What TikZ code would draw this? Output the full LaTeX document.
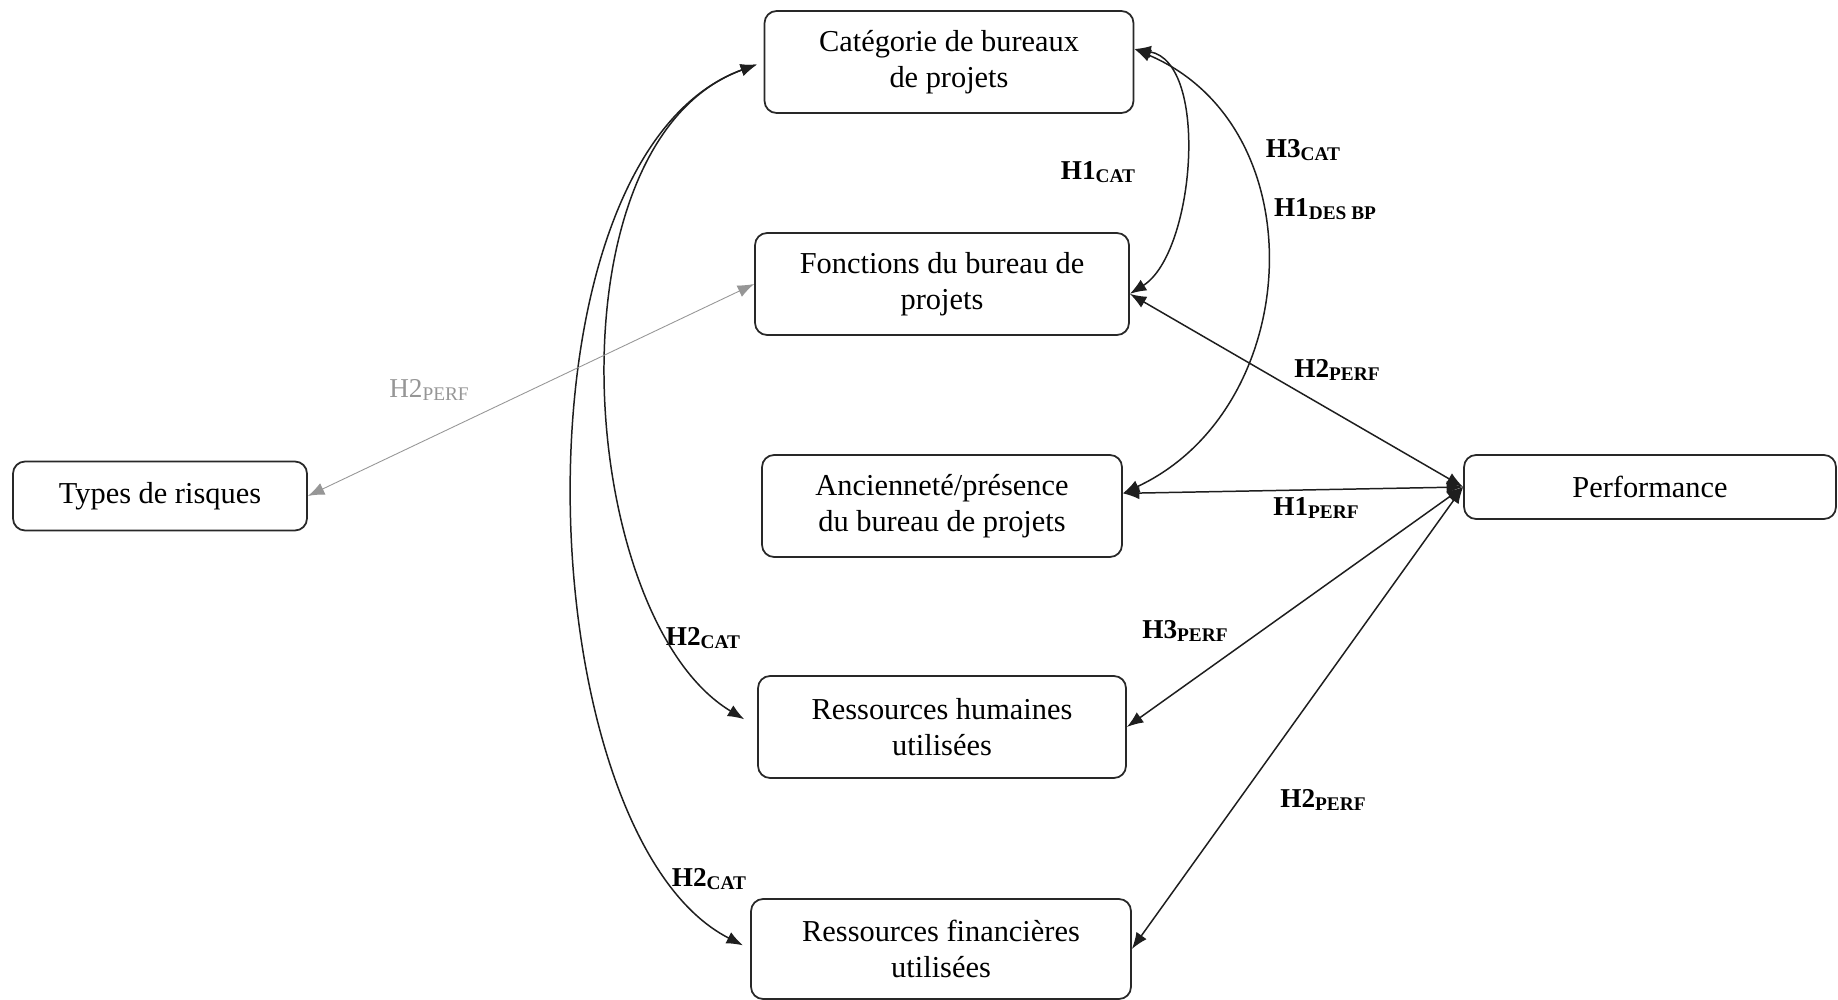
\documentclass[tikz,border=0pt]{standalone}
\usepackage{fontspec}
\setmainfont{Liberation Serif}
\usepackage{tikz}
\usetikzlibrary{arrows.meta}
\definecolor{boxline}{RGB}{40,40,40}
\definecolor{linkline}{RGB}{30,30,30}
\definecolor{greyline}{RGB}{150,150,150}
\newcommand{\hypsub}[2]{#1\raisebox{-0.3ex}{\fontsize{11}{11}\selectfont #2}}
\newcommand{\hyp}[2]{{\bfseries\hypsub{#1}{#2}}}

\begin{document}
\begin{tikzpicture}[
      x=0.02cm,y=0.02cm,
      box/.style={draw=boxline,line width=1pt,rounded corners=0.24cm,align=center,
                  inner sep=0pt,minimum height=2.04cm,
                  font=\fontsize{17.3}{20.5}\selectfont},
      hyplabel/.style={font=\fontsize{15.5}{17}\selectfont,inner sep=0pt},
      every edge/.style={draw,linkline,line width=0.85pt,
                         {Latex[length=3.3mm,width=2.5mm]}-{Latex[length=3.3mm,width=2.5mm]}}]
    \useasboundingbox (0,0) rectangle (1838,-1000);

    \node[box,minimum width=7.38cm] (cat) at (949,-62)
      {Catégorie de bureaux\\de projets};
    \node[box,minimum width=7.48cm] (fonc) at (942,-284)
      {Fonctions du bureau de\\projets};
    \node[box,minimum width=7.2cm] (anc) at (942,-506)
      {Ancienneté/présence\\du bureau de projets};
    \node[box,minimum width=7.36cm] (rh) at (942,-727)
      {Ressources humaines\\utilisées};
    \node[box,minimum width=7.6cm,minimum height=2cm] (rf) at (941,-949)
      {Ressources financières\\utilisées};
    \node[box,minimum width=5.88cm,minimum height=1.38cm] (types) at (160,-496)
      {Types de risques};
    \node[box,minimum width=7.44cm,minimum height=1.28cm] (perf) at (1650,-487)
      {Performance};

    \node[hyplabel] (h1cat) at (1098,-172) {\hyp{H1}{CAT}};
    \node[hyplabel] (h3cat) at (1303,-150) {\hyp{H3}{CAT}};
    \node[hyplabel] (h1des) at (1325,-209) {\hyp{H1}{DES BP}};
    \node[hyplabel] (h2perfa) at (1337,-370) {\hyp{H2}{PERF}};
    \node[hyplabel] (h1perf) at (1316,-508) {\hyp{H1}{PERF}};
    \node[hyplabel] (h3perf) at (1185,-631) {\hyp{H3}{PERF}};
    \node[hyplabel] (h2perfb) at (1323,-800) {\hyp{H2}{PERF}};
    \node[hyplabel] (h2cata) at (703,-638) {\hyp{H2}{CAT}};
    \node[hyplabel] (h2catb) at (709,-879) {\hyp{H2}{CAT}};
    \node[hyplabel,text=greyline] (h2risk) at (429,-390) {\hypsub{H2}{PERF}};

    \draw (cat.west) edge[out=200,in=149,out looseness=0.9,in looseness=0.81,
                          shorten <=0.14cm,shorten >=0.3cm] (rh.west);
    \draw (cat.west) edge[out=200,in=153,out looseness=0.8,in looseness=0.72,
                          shorten <=0.14cm,shorten >=0.16cm] (rf.west);
    \draw (cat.4) edge[out=-10,in=32,looseness=0.8] (fonc.-3);
    \draw (cat.4) edge[out=-23,in=25,looseness=1.15] (anc.4);
    \draw (perf.west) edge (fonc.-3);
    \draw (perf.west) edge (anc.4);
    \draw (perf.west) edge (rh.east);
    \draw (perf.west) edge (rf.east);
    \draw (fonc.west) edge[greyline,line width=0.5pt] (types.east);
  \end{tikzpicture}
\end{document}
